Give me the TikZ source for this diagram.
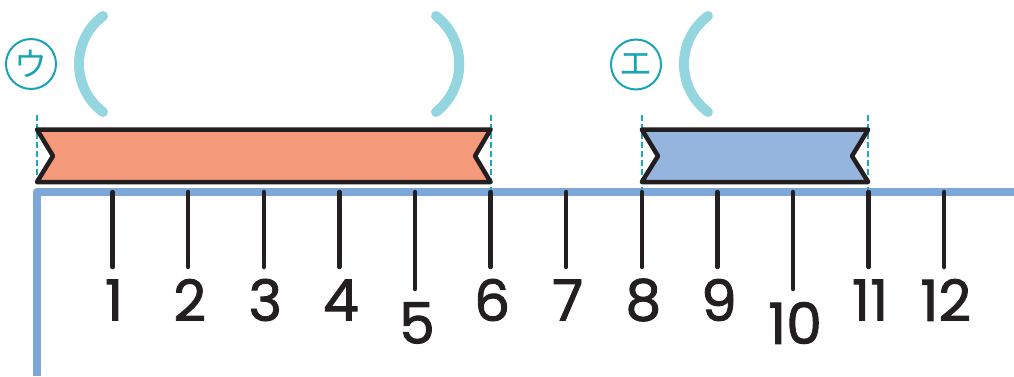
\documentclass[tikz,border=0pt]{standalone}
\usepackage{fontspec}
\setmainfont{Poppins}
\newfontfamily\numfont[FakeBold=1.6]{Poppins}
\newfontfamily\jpfont{Noto Sans CJK JP}
\definecolor{barorange}{HTML}{F49A7B}
\definecolor{barblue}{HTML}{96B5DE}
\definecolor{axisblue}{HTML}{7DA7D9}
\definecolor{guideteal}{HTML}{1BA9BC}
\definecolor{parencol}{HTML}{94D6E0}
\definecolor{markteal}{HTML}{16A4B6}
\definecolor{inkblack}{HTML}{231F20}
\tikzset{
  axisline/.style={draw=axisblue, line width=7.5bp, line join=round},
  tickline/.style={draw=inkblack, line width=4.5bp, line cap=round},
  numlabel/.style={text=inkblack, font=\numfont\fontsize{57}{57}\selectfont, inner sep=0pt, anchor=center},
  tape/.style={draw=inkblack, line width=4.5bp, line join=round},
  guide/.style={draw=guideteal, line width=1.8bp, dash pattern=on 6bp off 3bp},
  paren/.style={draw=parencol, line width=10bp, line cap=round},
  markcircle/.style={circle, draw=markteal, line width=2bp, minimum size=50bp, inner sep=0pt, text=markteal, font=\jpfont\fontsize{33}{33}\selectfont},
}
\begin{document}
\begin{tikzpicture}[x=1bp, y=-1bp]
\useasboundingbox (0,0) rectangle (1014,376);
% axis
\coordinate (origin) at (37,192);
\coordinate (axisend) at (1014,192);
\coordinate (axisbottom) at (37,376);
\draw[axisline] (axisend) -- (origin) -- (axisbottom);
% ticks and labels
\foreach \n in {1,...,12} {
  \coordinate (t\n) at ({37+75.6*\n},192);
}
\foreach \n in {1,2,3,4,6,7,8,9,11,12} {
  \coordinate (b\n) at ({37+75.6*\n},267);
  \node[numlabel] (l\n) at ({37+75.6*\n+1.5},300) {\n};
}
\foreach \n in {5,10} {
  \coordinate (b\n) at ({37+75.6*\n},289);
  \node[numlabel] (l\n) at ({37+75.6*\n+2},323) {\n};
}
\foreach \n in {1,...,12} {
  \draw[tickline] (t\n) -- (b\n);
}
% guides
\coordinate (g1a) at (37,115); \coordinate (g1b) at (37,186);
\coordinate (g2a) at (490.6,115); \coordinate (g2b) at (490.6,190);
\coordinate (g3a) at (641.8,115); \coordinate (g3b) at (641.8,190);
\coordinate (g4a) at (868.2,115); \coordinate (g4b) at (868.2,190);
\draw[guide] (g1a) -- (g1b);
\draw[guide] (g2a) -- (g2b);
\draw[guide] (g3a) -- (g3b);
\draw[guide] (g4a) -- (g4b);
% orange tape
\coordinate (o1) at (37,129.5);
\coordinate (o2) at (490.6,129.5);
\coordinate (o3) at (475,156);
\coordinate (o4) at (490.6,182);
\coordinate (o5) at (37,182);
\coordinate (o6) at (53,156);
\filldraw[tape, fill=barorange] (o1) -- (o2) -- (o3) -- (o4) -- (o5) -- (o6) -- cycle;
% blue tape
\coordinate (p1) at (641.8,129.5);
\coordinate (p2) at (868.2,129.5);
\coordinate (p3) at (852,156);
\coordinate (p4) at (868.2,182);
\coordinate (p5) at (641.8,182);
\coordinate (p6) at (658,156);
\filldraw[tape, fill=barblue] (p1) -- (p2) -- (p3) -- (p4) -- (p5) -- (p6) -- cycle;
% parentheses
\coordinate (pa1) at (103,16); \coordinate (pa2) at (103,112);
\coordinate (pb1) at (436,16); \coordinate (pb2) at (436,112);
\coordinate (pc1) at (708,16); \coordinate (pc2) at (708,112);
\draw[paren] (pa1) .. controls (71,40) and (71,88) .. (pa2);
\draw[paren] (pb1) .. controls (467,40) and (467,88) .. (pb2);
\draw[paren] (pc1) .. controls (676,40) and (676,88) .. (pc2);
% circled marks
\node[markcircle] (mu) at (31,64) {ウ};
\node[markcircle] (me) at (636,64.5) {エ};
\end{tikzpicture}
\end{document}
